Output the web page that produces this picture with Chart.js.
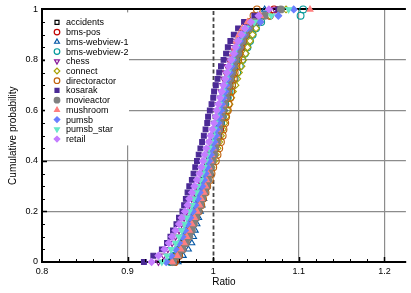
<!DOCTYPE html>
<html lang="en">
<head>
<meta charset="UTF-8">
<title>Ratio CDF</title>
<style>
    * { margin: 0; padding: 0; box-sizing: border-box; }
    body { background: #fff; }
    .chart-box { width: 411px; height: 293px; }
</style>
</head>
<body>
<div class="chart-box"><canvas id="ratioChart"></canvas></div>

<script src="https://cdn.jsdelivr.net/npm/chart.js"></script>
<script>
    // cumulative probability levels shared by every series
    const probs = [0.000, 0.025, 0.050, 0.075, 0.100, 0.125, 0.150, 0.175, 0.200, 0.225,
                   0.250, 0.275, 0.300, 0.325, 0.350, 0.375, 0.400, 0.425, 0.450, 0.475,
                   0.500, 0.525, 0.550, 0.575, 0.600, 0.625, 0.650, 0.675, 0.700, 0.725,
                   0.750, 0.775, 0.800, 0.825, 0.850, 0.875, 0.900, 0.925, 0.950, 0.975,
                   1.000];

    // ratio reached at each level, one array per dataset
    const accidents = [0.950, 0.955, 0.959, 0.963, 0.966, 0.969, 0.972, 0.975, 0.977, 0.980,
                       0.982, 0.985, 0.987, 0.989, 0.991, 0.993, 0.995, 0.997, 0.999, 1.001,
                       1.003, 1.004, 1.006, 1.007, 1.009, 1.011, 1.013, 1.014, 1.016, 1.018,
                       1.020, 1.022, 1.024, 1.027, 1.029, 1.032, 1.036, 1.040, 1.047, 1.058,
                       1.078];
    const bmsPos = [0.955, 0.960, 0.964, 0.967, 0.970, 0.973, 0.976, 0.979, 0.981, 0.984,
                    0.986, 0.988, 0.990, 0.992, 0.994, 0.996, 0.998, 1.000, 1.002, 1.004,
                    1.006, 1.008, 1.009, 1.011, 1.012, 1.014, 1.016, 1.017, 1.019, 1.021,
                    1.023, 1.025, 1.027, 1.030, 1.032, 1.035, 1.038, 1.043, 1.052, 1.066,
                    1.071];
    const bmsWebview1 = [0.959, 0.965, 0.971, 0.975, 0.977, 0.979, 0.981, 0.983, 0.985, 0.987,
                         0.989, 0.991, 0.993, 0.994, 0.996, 0.997, 0.999, 1.001, 1.002, 1.004,
                         1.005, 1.007, 1.008, 1.009, 1.011, 1.012, 1.014, 1.015, 1.017, 1.018,
                         1.020, 1.022, 1.024, 1.026, 1.028, 1.031, 1.034, 1.038, 1.044, 1.052,
                         1.060];
    const bmsWebview2 = [0.950, 0.955, 0.959, 0.963, 0.966, 0.969, 0.972, 0.975, 0.978, 0.981,
                         0.983, 0.986, 0.988, 0.991, 0.993, 0.995, 0.997, 0.999, 1.001, 1.003,
                         1.005, 1.007, 1.009, 1.011, 1.012, 1.014, 1.017, 1.019, 1.022, 1.025,
                         1.028, 1.031, 1.034, 1.037, 1.040, 1.043, 1.046, 1.050, 1.056, 1.102,
                         1.105];
    const chess = [0.936, 0.942, 0.947, 0.952, 0.956, 0.960, 0.963, 0.966, 0.969, 0.972,
                   0.975, 0.978, 0.980, 0.983, 0.985, 0.988, 0.990, 0.992, 0.994, 0.996,
                   0.998, 1.000, 1.001, 1.003, 1.004, 1.006, 1.008, 1.009, 1.011, 1.012,
                   1.014, 1.016, 1.018, 1.020, 1.022, 1.025, 1.028, 1.033, 1.040, 1.050,
                   1.072];
    const connect = [0.952, 0.957, 0.961, 0.965, 0.968, 0.971, 0.974, 0.977, 0.980, 0.983,
                     0.985, 0.988, 0.991, 0.994, 0.996, 0.998, 1.001, 1.003, 1.005, 1.007,
                     1.009, 1.011, 1.013, 1.015, 1.017, 1.019, 1.021, 1.023, 1.026, 1.028,
                     1.030, 1.033, 1.035, 1.038, 1.040, 1.043, 1.046, 1.050, 1.055, 1.066,
                     1.085];
    const directoractor = [0.955, 0.960, 0.964, 0.968, 0.971, 0.974, 0.977, 0.980, 0.983, 0.986,
                           0.988, 0.991, 0.993, 0.996, 0.998, 1.000, 1.003, 1.005, 1.007, 1.009,
                           1.011, 1.012, 1.014, 1.015, 1.017, 1.018, 1.020, 1.021, 1.022, 1.024,
                           1.025, 1.027, 1.029, 1.031, 1.033, 1.035, 1.038, 1.040, 1.043, 1.047,
                           1.051];
    const kosarak = [0.919, 0.930, 0.940, 0.946, 0.950, 0.953, 0.957, 0.960, 0.964, 0.966,
                     0.968, 0.970, 0.972, 0.975, 0.977, 0.979, 0.981, 0.983, 0.985, 0.987,
                     0.989, 0.991, 0.993, 0.994, 0.996, 0.998, 1.000, 1.001, 1.003, 1.005,
                     1.007, 1.009, 1.012, 1.015, 1.017, 1.020, 1.024, 1.029, 1.036, 1.048,
                     1.076];
    const movieactor = [0.953, 0.959, 0.964, 0.968, 0.972, 0.975, 0.977, 0.980, 0.982, 0.985,
                        0.987, 0.990, 0.992, 0.994, 0.996, 0.997, 0.999, 1.001, 1.002, 1.004,
                        1.005, 1.007, 1.008, 1.010, 1.011, 1.013, 1.015, 1.016, 1.018, 1.020,
                        1.022, 1.024, 1.026, 1.029, 1.031, 1.034, 1.037, 1.042, 1.048, 1.060,
                        1.079];
    const mushroom = [0.952, 0.958, 0.962, 0.966, 0.969, 0.972, 0.975, 0.978, 0.981, 0.984,
                      0.986, 0.989, 0.991, 0.992, 0.994, 0.995, 0.997, 0.998, 1.000, 1.002,
                      1.004, 1.005, 1.006, 1.008, 1.009, 1.011, 1.012, 1.013, 1.015, 1.016,
                      1.017, 1.019, 1.021, 1.023, 1.025, 1.027, 1.030, 1.034, 1.040, 1.055,
                      1.113];
    const pumsb = [0.945, 0.951, 0.956, 0.960, 0.964, 0.967, 0.970, 0.973, 0.976, 0.979,
                   0.982, 0.984, 0.987, 0.989, 0.991, 0.993, 0.995, 0.997, 0.999, 1.001,
                   1.003, 1.004, 1.006, 1.007, 1.009, 1.010, 1.012, 1.014, 1.015, 1.017,
                   1.019, 1.021, 1.023, 1.025, 1.028, 1.031, 1.035, 1.040, 1.055, 1.076,
                   1.094];
    const pumsbStar = [0.940, 0.946, 0.951, 0.956, 0.960, 0.963, 0.966, 0.969, 0.972, 0.975,
                       0.977, 0.980, 0.982, 0.985, 0.987, 0.989, 0.991, 0.993, 0.995, 0.997,
                       0.999, 1.001, 1.002, 1.004, 1.005, 1.007, 1.009, 1.011, 1.013, 1.015,
                       1.017, 1.019, 1.022, 1.024, 1.027, 1.030, 1.034, 1.038, 1.048, 1.068,
                       1.088];
    const retail = [0.928, 0.936, 0.943, 0.948, 0.952, 0.956, 0.960, 0.963, 0.967, 0.970,
                    0.972, 0.975, 0.978, 0.981, 0.984, 0.986, 0.988, 0.990, 0.992, 0.995,
                    0.997, 0.999, 1.001, 1.003, 1.004, 1.006, 1.008, 1.010, 1.012, 1.014,
                    1.016, 1.018, 1.021, 1.024, 1.026, 1.029, 1.033, 1.037, 1.044, 1.053,
                    1.065];

    const names = ['accidents', 'bms-pos', 'bms-webview-1', 'bms-webview-2', 'chess', 'connect',
                   'directoractor', 'kosarak', 'movieactor', 'mushroom', 'pumsb', 'pumsb_star', 'retail'];
    const series = [accidents, bmsPos, bmsWebview1, bmsWebview2, chess, connect,
                    directoractor, kosarak, movieactor, mushroom, pumsb, pumsbStar, retail];
    const refRatio = 1;

    // marker look per dataset
    const looks = [
        { color: '#000000', shape: 'rect',     rot: 0,   filled: false },
        { color: '#c00000', shape: 'circle',   rot: 0,   filled: false },
        { color: '#0055a5', shape: 'triangle', rot: 0,   filled: false },
        { color: '#00999a', shape: 'circle',   rot: 0,   filled: false },
        { color: '#8a1a9a', shape: 'triangle', rot: 180, filled: false },
        { color: '#a8a000', shape: 'rectRot',  rot: 0,   filled: false },
        { color: '#c0600a', shape: 'circle',   rot: 0,   filled: false },
        { color: '#4b2a96', shape: 'rect',     rot: 0,   filled: true },
        { color: '#808080', shape: 'circle',   rot: 0,   filled: true },
        { color: '#ff7f7f', shape: 'triangle', rot: 0,   filled: true },
        { color: '#6a7dff', shape: 'rectRot',  rot: 0,   filled: true },
        { color: '#66e8c8', shape: 'triangle', rot: 180, filled: true },
        { color: '#c47dff', shape: 'rectRot',  rot: 0,   filled: true }
    ];

    const clear = 'rgba(255,255,255,0)';
    const gridGray = '#8c8c8c';

    const datasets = series.map((xs, i) => ({
        label: names[i],
        data: xs.map((v, j) => ({ x: v, y: probs[j] })),
        showLine: false,
        pointStyle: looks[i].shape,
        rotation: looks[i].rot,
        pointRadius: 3.4,
        pointBorderWidth: 1.1,
        borderColor: looks[i].color,
        backgroundColor: looks[i].filled ? looks[i].color : clear,
        order: series.length - i,   // later series drawn on top
        clip: false
    }));

    // dashed line at ratio 1, inward ticks and the boxed legend
    const decor = {
        id: 'decor',
        beforeDatasetsDraw(chart) {
            const { ctx, chartArea: a, scales: { x } } = chart;
            const px = Math.round(x.getPixelForValue(refRatio)) + 0.5;
            ctx.save();
            ctx.strokeStyle = '#444';
            ctx.lineWidth = 1.8;
            ctx.setLineDash([4, 2.5]);
            ctx.beginPath();
            ctx.moveTo(px, a.bottom);
            ctx.lineTo(px, a.top);
            ctx.stroke();
            ctx.restore();
        },
        afterDraw(chart) {
            const { ctx, chartArea: a, scales: { x, y } } = chart;
            ctx.save();
            ctx.strokeStyle = '#000';
            x.ticks.forEach(t => {
                const k = Math.round(t.value * 1000);
                if (k % 20 !== 0 || k === 800) return;
                const px = Math.round(x.getPixelForValue(t.value)) + 0.5;
                const len = k % 100 === 0 ? 5 : 3;
                ctx.lineWidth = k % 100 === 0 ? 1.5 : 1;
                ctx.beginPath();
                ctx.moveTo(px, a.bottom);
                ctx.lineTo(px, a.bottom - len);
                ctx.stroke();
            });
            y.ticks.forEach(t => {
                const k = Math.round(t.value * 100);
                if (k === 0 || k === 100) return;
                const py = Math.round(y.getPixelForValue(t.value)) + 0.5;
                const len = k % 20 === 0 ? 5 : 3;
                ctx.lineWidth = k % 20 === 0 ? 1.5 : 1;
                ctx.beginPath();
                ctx.moveTo(a.left, py);
                ctx.lineTo(a.left + len, py);
                ctx.stroke();
            });

            // legend
            ctx.fillStyle = '#fff';
            ctx.fillRect(a.left + 3, a.top + 3, 84, 133);
            ctx.font = '9px "Liberation Sans", Arial, sans-serif';
            ctx.textBaseline = 'middle';
            ctx.textAlign = 'left';
            names.forEach((name, i) => {
                const cy = a.top + 13 + i * 9.72;
                const cx = a.left + 15;
                const lk = looks[i];
                ctx.strokeStyle = lk.color;
                ctx.fillStyle = lk.filled ? lk.color : '#fff';
                ctx.lineWidth = 1.2;
                Chart.helpers.drawPoint(ctx, { pointStyle: lk.shape, rotation: lk.rot, radius: 2.8, borderWidth: 1.2 }, cx, cy);
                ctx.fillStyle = '#000';
                ctx.fillText(name, a.left + 24, cy + 0.5);
            });
            ctx.restore();
        }
    };

    Chart.defaults.font.family = '"Liberation Sans", Arial, sans-serif';
    Chart.defaults.color = '#000';

    new Chart(document.getElementById('ratioChart'), {
        type: 'scatter',
        data: { datasets },
        options: {
            responsive: true,
            maintainAspectRatio: false,
            animation: false,
            events: [],
            layout: { padding: { top: 4, right: 1, left: 0, bottom: 0 } },
            plugins: {
                legend: { display: false },
                tooltip: { enabled: false }
            },
            scales: {
                x: {
                    type: 'linear',
                    min: 0.8,
                    max: 1.225,
                    afterFit: s => { s.height = 31; },
                    border: { color: '#000', width: 2 },
                    grid: {
                        drawTicks: false,
                        color: c => {
                            if (!c.tick) return clear;
                            const k = Math.round(c.tick.value * 100);
                            return (k === 90 || k === 110 || k === 120) ? gridGray : clear;
                        },
                        lineWidth: 1.2
                    },
                    ticks: {
                        stepSize: 0.02,
                        autoSkip: false,
                        maxRotation: 0,
                        padding: 4,
                        font: { size: 9 },
                        callback: v => {
                            const k = Math.round(v * 1000);
                            return k % 100 === 0 ? String(k / 1000) : '';
                        }
                    },
                    title: {
                        display: true,
                        text: 'Ratio',
                        font: { size: 10 },
                        padding: { top: 0, bottom: 5 }
                    }
                },
                y: {
                    type: 'linear',
                    min: 0,
                    max: 1,
                    afterFit: s => { s.width = 42; },
                    border: { color: '#000', width: 2 },
                    grid: {
                        drawTicks: false,
                        color: c => {
                            if (!c.tick) return clear;
                            const k = Math.round(c.tick.value * 100);
                            if (k === 100) return '#000';
                            return (k > 0 && k % 20 === 0) ? gridGray : clear;
                        },
                        lineWidth: c => (c.tick && Math.round(c.tick.value * 100) === 100) ? 2 : 1.2
                    },
                    ticks: {
                        stepSize: 0.05,
                        autoSkip: false,
                        padding: 4,
                        font: { size: 9 },
                        callback: v => {
                            const k = Math.round(v * 100);
                            return k % 20 === 0 ? String(k / 100) : '';
                        }
                    },
                    title: {
                        display: true,
                        text: 'Cumulative probability',
                        font: { size: 10 },
                        padding: { top: 7, bottom: 0 }
                    }
                }
            }
        },
        plugins: [decor]
    });
</script>
</body>
</html>
